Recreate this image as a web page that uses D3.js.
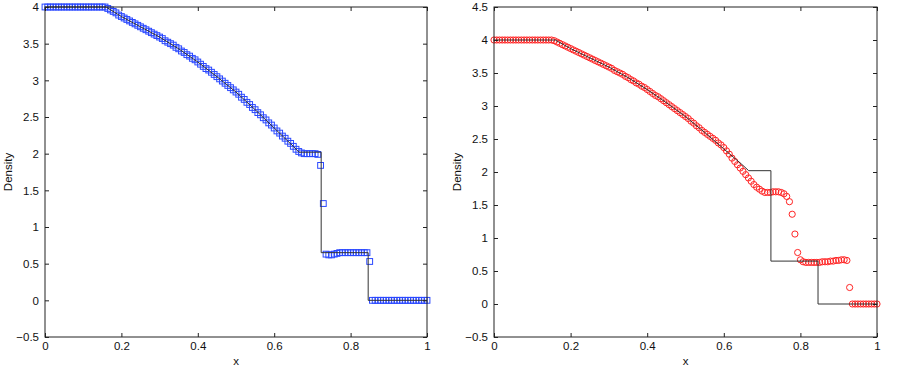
<!DOCTYPE html>
<html>
<head>
<meta charset="utf-8">
<script src="https://cdn.jsdelivr.net/npm/d3@7"></script>
<style>
body { margin: 0; background: #fff; }
text { font-family: "Liberation Sans", Arial, sans-serif; }
</style>
</head>
<body>
<script>
// uniform mesh, point i sits at x = i / nCells
var nCells = 140;

// exact solution (black line)
var exactX   = [0, 0.16, 0.2, 0.25, 0.3, 0.35, 0.4, 0.45, 0.5, 0.55, 0.6, 0.65, 0.665, 0.723, 0.723, 0.846, 0.846, 1];
var exactRho = [4, 4, 3.87, 3.73, 3.59, 3.43, 3.25, 3.05, 2.84, 2.60, 2.35, 2.10, 2.02, 2.02, 0.65, 0.65, 0, 0];

// left panel, blue squares
var rhoLeft = [
    4, 4, 4, 4, 4, 4, 4, 4, 4, 4, 4, 4, 4, 4, 4, 4, 4, 4, 4, 4, 4, 4, 4,
    3.98, 3.96, 3.94, 3.92, 3.89, 3.87,
    3.85, 3.83, 3.81, 3.79, 3.77, 3.75, 3.73,
    3.71, 3.69, 3.67, 3.65, 3.63, 3.61, 3.59,
    3.57, 3.54, 3.52, 3.50, 3.48, 3.45, 3.43,
    3.40, 3.38, 3.35, 3.33, 3.30, 3.28, 3.25,
    3.22, 3.19, 3.16, 3.14, 3.11, 3.08, 3.05,
    3.02, 2.99, 2.96, 2.93, 2.90, 2.87, 2.84,
    2.81, 2.77, 2.74, 2.70, 2.67, 2.63, 2.60,
    2.56, 2.53, 2.49, 2.46, 2.42, 2.39, 2.35,
    2.31, 2.28, 2.24, 2.21, 2.17, 2.14, 2.10,
    2.06, 2.03, 2.01, 2.00, 2.00, 2.00, 2.00, 2.00, 1.99,
    1.84, 1.32,
    0.63, 0.62, 0.62, 0.63, 0.64,
    0.65, 0.65, 0.65, 0.65, 0.65, 0.65, 0.65, 0.65, 0.65, 0.65, 0.65,
    0.53,
    0, 0, 0, 0, 0, 0, 0, 0, 0, 0, 0, 0, 0, 0, 0, 0, 0, 0, 0, 0, 0
];

// right panel, red circles
var rhoRight = [
    4, 4, 4, 4, 4, 4, 4, 4, 4, 4, 4, 4, 4, 4, 4, 4, 4, 4, 4, 4, 4, 4,
    3.99, 3.97, 3.95, 3.93, 3.91, 3.89, 3.87,
    3.85, 3.83, 3.81, 3.79, 3.77, 3.75, 3.73,
    3.71, 3.69, 3.67, 3.65, 3.63, 3.61, 3.59,
    3.57, 3.54, 3.52, 3.50, 3.48, 3.45, 3.43,
    3.40, 3.38, 3.35, 3.33, 3.30, 3.28, 3.25,
    3.22, 3.19, 3.16, 3.14, 3.11, 3.08, 3.05,
    3.02, 2.99, 2.96, 2.93, 2.90, 2.87, 2.84,
    2.81, 2.77, 2.74, 2.70, 2.67, 2.63, 2.60,
    2.57, 2.54, 2.51, 2.48, 2.44, 2.41,
    2.37, 2.32, 2.27, 2.21, 2.16, 2.11, 2.06, 2.01, 1.96, 1.91,
    1.86, 1.81, 1.77, 1.74, 1.71, 1.69, 1.69, 1.69, 1.70, 1.70,
    1.70, 1.69, 1.67, 1.63, 1.55, 1.36, 1.06, 0.78, 0.67, 0.64,
    0.63, 0.63, 0.63, 0.63, 0.63, 0.63, 0.64, 0.64, 0.64, 0.65,
    0.65, 0.66, 0.66, 0.67, 0.67, 0.66,
    0.25,
    0, 0, 0, 0, 0, 0, 0, 0, 0, 0
];

var xTicks = [0, 0.2, 0.4, 0.6, 0.8, 1];
var yTicksLeft = [-0.5, 0, 0.5, 1, 1.5, 2, 2.5, 3, 3.5, 4];
var yTicksRight = [-0.5, 0, 0.5, 1, 1.5, 2, 2.5, 3, 3.5, 4, 4.5];

var W = 899, H = 376;
var svg = d3.select("body").append("svg")
    .attr("width", W)
    .attr("height", H);

function toPoints(rho) {
    return rho.map(function (d, i) { return [i / nCells, d]; });
}

function panel(opt) {
    var x = d3.scaleLinear().domain([0, 1]).range([opt.left, opt.right]);
    var y = d3.scaleLinear().domain(opt.yDomain).range([337, 7]);
    var fmt = d3.format("~g");
    var g = svg.append("g");

    // markers
    var pts = toPoints(opt.rho);
    if (opt.marker == "square") {
        g.selectAll("rect.m").data(pts).enter().append("rect")
            .attr("class", "m")
            .attr("x", function (d) { return x(d[0]) - 2.9; })
            .attr("y", function (d) { return y(d[1]) - 2.9; })
            .attr("width", 5.8)
            .attr("height", 5.8)
            .attr("fill", "none")
            .attr("stroke", "#2a48ff")
            .attr("stroke-width", 1);
    } else {
        g.selectAll("circle.m").data(pts).enter().append("circle")
            .attr("class", "m")
            .attr("cx", function (d) { return x(d[0]); })
            .attr("cy", function (d) { return y(d[1]); })
            .attr("r", 3.1)
            .attr("fill", "none")
            .attr("stroke", "#ff2424")
            .attr("stroke-width", 1);
    }

    // exact solution
    var line = d3.line()
        .x(function (d, i) { return x(exactX[i]); })
        .y(function (d) { return y(d); });
    g.append("path")
        .datum(exactRho)
        .attr("d", line)
        .attr("fill", "none")
        .attr("stroke", "#333")
        .attr("stroke-width", 1);

    // axes, ticks inward on all four sides
    var axB = g.append("g").attr("transform", "translate(0,337)")
        .call(d3.axisBottom(x).tickValues(xTicks).tickFormat(fmt).tickSizeInner(-4).tickSizeOuter(0).tickPadding(5));
    var axT = g.append("g").attr("transform", "translate(0,7)")
        .call(d3.axisTop(x).tickValues(xTicks).tickFormat("").tickSizeInner(-4).tickSizeOuter(0));
    var axL = g.append("g").attr("transform", "translate(" + opt.left + ",0)")
        .call(d3.axisLeft(y).tickValues(opt.yTicks).tickFormat(fmt).tickSizeInner(-4).tickSizeOuter(0).tickPadding(6));
    var axR = g.append("g").attr("transform", "translate(" + opt.right + ",0)")
        .call(d3.axisRight(y).tickValues(opt.yTicks).tickFormat("").tickSizeInner(-4).tickSizeOuter(0));
    [axB, axT, axL, axR].forEach(function (a) {
        a.select(".domain").remove();
        a.selectAll("line").attr("stroke", "#222");
        a.selectAll("text").attr("font-size", "11.5px").attr("fill", "#111")
            .style("font-family", "'Liberation Sans', Arial, sans-serif");
    });

    g.append("rect")
        .attr("x", opt.left)
        .attr("y", 7)
        .attr("width", opt.right - opt.left)
        .attr("height", 330)
        .attr("fill", "none")
        .attr("stroke", "#222")
        .attr("stroke-width", 1);

    g.append("text")
        .attr("x", (opt.left + opt.right) / 2)
        .attr("y", 365)
        .attr("text-anchor", "middle")
        .attr("font-size", "11.5px")
        .attr("fill", "#111")
        .text("x");

    g.append("text")
        .attr("transform", "translate(" + (opt.left - 33) + ",172) rotate(-90)")
        .attr("text-anchor", "middle")
        .attr("font-size", "11.5px")
        .attr("fill", "#111")
        .text("Density");
}

panel({ left: 45, right: 427, yDomain: [-0.5, 4], yTicks: yTicksLeft, rho: rhoLeft, marker: "square" });
panel({ left: 494, right: 877, yDomain: [-0.5, 4.5], yTicks: yTicksRight, rho: rhoRight, marker: "circle" });
</script>
</body>
</html>
